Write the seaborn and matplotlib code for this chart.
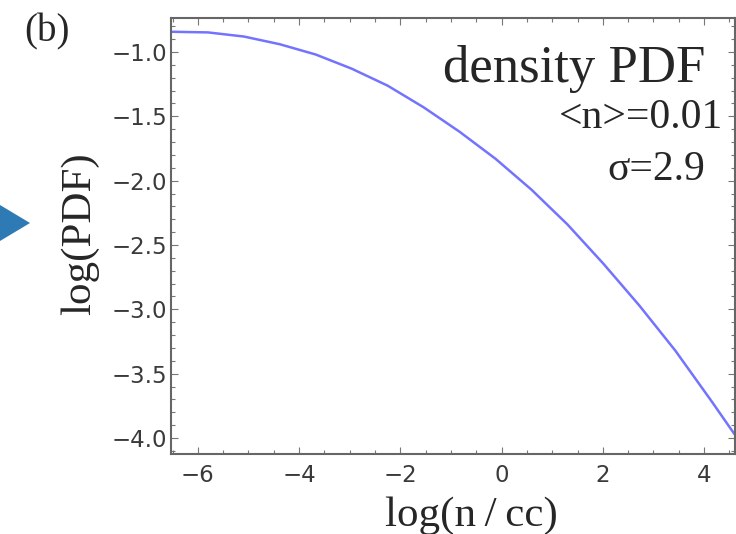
import matplotlib
matplotlib.use("Agg")
import matplotlib.pyplot as plt
import seaborn as sns
import pandas as pd
from matplotlib.patches import Polygon
from matplotlib.ticker import MultipleLocator

# ---- data ----
log_n = [-6.51, -5.80, -5.09, -4.38, -3.67, -2.96, -2.25, -1.54, -0.83,
         -0.12, 0.59, 1.30, 2.01, 2.72, 3.43, 4.14, 4.60]
log_pdf = [-0.843, -0.848, -0.880, -0.940, -1.020, -1.130, -1.262, -1.430,
           -1.620, -1.830, -2.070, -2.340, -2.645, -2.970, -3.320, -3.710,
           -3.970]
x_ticks = [-6, -4, -2, 0, 2, 4]
y_ticks = [-4.0, -3.5, -3.0, -2.5, -2.0, -1.5, -1.0]

df = pd.DataFrame({"log_n": log_n, "log_pdf": log_pdf})

sns.set_style("ticks")
serif = ["Liberation Serif", "DejaVu Serif"]

fig = plt.figure(figsize=(7.36, 5.34), dpi=100)
ax = fig.add_axes([171 / 736, 80 / 534, (735 - 171) / 736, (454 - 18) / 534])

sns.lineplot(data=df, x="log_n", y="log_pdf", ax=ax, color="#0000ff",
             alpha=0.55, linewidth=1.8, sort=False)

ax.set_xlim(-6.53, 4.61)
ax.set_ylim(-4.124, -0.736)
ax.set_xticks(x_ticks)
ax.set_yticks(y_ticks)
ax.set_xticklabels([f"\u2212{abs(v)}" if v < 0 else f"{v}" for v in x_ticks])
ax.set_yticklabels([f"\u2212{abs(v):.1f}" for v in y_ticks])
ax.xaxis.set_minor_locator(MultipleLocator(0.5))
ax.yaxis.set_minor_locator(MultipleLocator(0.1))
ax.tick_params(which="both", direction="in", top=True, right=True,
               color="#777777", width=0.8)
ax.tick_params(which="major", length=5)
ax.tick_params(which="minor", length=3)
ax.tick_params(axis="x", which="major", pad=7, labelsize=16.5, labelcolor="#3a3a3a")
ax.tick_params(axis="y", which="major", pad=3, labelsize=16.5, labelcolor="#3a3a3a")
for s in ax.spines.values():
    s.set_color("#666666")
    s.set_linewidth(1.5)

ax.set_xlabel("")
ax.set_ylabel("")
fig.text(471 / 736, 1 - 516 / 534, "log(n\u2009/\u2009cc)", family=serif,
         fontsize=31, ha="center", va="center")
fig.text(80 / 736, 1 - 234 / 534, "log(PDF)", family=serif, fontsize=31,
         rotation=90, ha="center", va="center")

fig.text(47 / 736, 1 - 32 / 534, "(b)", family=serif, fontsize=28,
         ha="center", va="center")
fig.text(705 / 736, 1 - 82 / 534, "density PDF", family=serif, fontsize=38,
         ha="right", va="baseline")
fig.text(723 / 736, 1 - 128 / 534, "<n>=0.01", family=serif, fontsize=30,
         ha="right", va="baseline")
fig.text(705 / 736, 1 - 180 / 534, "\u03c3=2.9", family=serif, fontsize=30,
         ha="right", va="baseline")

# partial arrow head from the neighbouring panel
tri = Polygon([[0 / 736, 1 - 205 / 534], [30 / 736, 1 - 223 / 534],
               [0 / 736, 1 - 241 / 534]], closed=True, transform=fig.transFigure,
              facecolor="#2e7ab5", edgecolor="none")
fig.patches.append(tri)

fig.savefig("out.png", dpi=100)
